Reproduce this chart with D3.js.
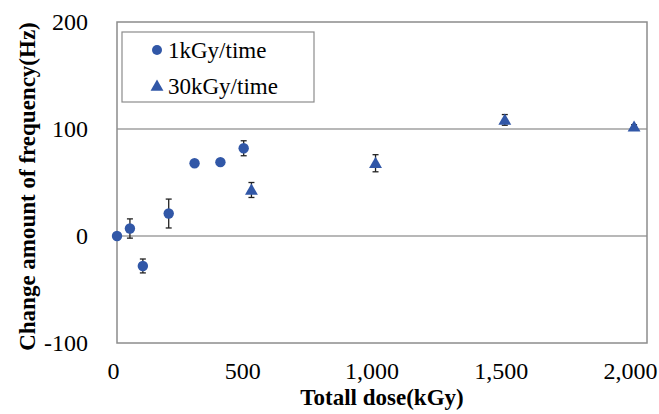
<!DOCTYPE html>
<html>
<head>
<meta charset="utf-8">
<script src="https://cdn.jsdelivr.net/npm/d3@7"></script>
<style>
  body { margin: 0; background: #fff; }
  text { font-family: "Liberation Serif", "Times New Roman", serif; fill: #000; }
  .tick text { font-family: "Liberation Serif", serif !important; }
</style>
</head>
<body>
<div id="vis"></div>
<script>
const margin = { top: 22, right: 12, bottom: 71, left: 117 };
const width = 659 - margin.left - margin.right;
const height = 414 - margin.top - margin.bottom;

// 1kGy/time series
const doseA = [0, 50, 100, 200, 300, 400, 490];
const freqA = [0, 7, -28, 21, 68, 69, 82];
const errA = [0, 9, 6.5, 13.5, 2, 2, 7];

// 30kGy/time series
const doseB = [520, 1000, 1500, 2000];
const freqB = [43, 68, 108.5, 102];
const errB = [7, 8, 5, 2];

const xTicks = [0, 500, 1000, 1500, 2000];
const yTicks = [-100, 0, 100, 200];
const seriesNames = ['1kGy/time', '30kGy/time'];
const blue = '#3157a7';
const serif = '"Liberation Serif", serif';

const svg = d3.select('#vis')
    .append('svg')
    .attr('width', 659)
    .attr('height', 414)
    .append('g')
    .attr('transform', `translate(${margin.left},${margin.top})`);

const xScale = d3.scaleLinear().domain([0, 2050]).range([0, width]);
const yScale = d3.scaleLinear().domain([-100, 200]).range([height, 0]);

// gridlines
svg.selectAll('.grid')
    .data(yTicks.filter(d => d > -100 && d < 200))
    .join('line')
    .attr('class', 'grid')
    .attr('x1', 0).attr('x2', width)
    .attr('y1', d => yScale(d)).attr('y2', d => yScale(d))
    .style('stroke', '#a0a0a0').style('stroke-width', 1.5);

// plot border
svg.append('rect')
    .attr('width', width).attr('height', height)
    .style('fill', 'none').style('stroke', '#8c8c8c').style('stroke-width', 1.5);

// axes (labels only, no tick marks)
const xAxis = svg.append('g')
    .attr('transform', `translate(0,${height})`)
    .call(d3.axisBottom(xScale).tickValues(xTicks).tickSize(0).tickPadding(19).tickFormat(d3.format(',')));
const yAxis = svg.append('g')
    .call(d3.axisLeft(yScale).tickValues(yTicks).tickSize(0).tickPadding(29).tickFormat(d => String(d)));
[xAxis, yAxis].forEach(a => {
    a.attr('font-family', serif).attr('font-size', 24);
    a.select('.domain').remove();
    a.selectAll('text').style('font-size', '24px').attr('fill', '#000');
});
xAxis.selectAll('text').attr('dx', -4);

// axis titles
svg.append('text')
    .attr('x', width / 2)
    .attr('y', height + 62)
    .attr('text-anchor', 'middle')
    .style('font-size', '23px').style('font-weight', 'bold')
    .text('Totall dose(kGy)');

svg.append('text')
    .attr('transform', 'rotate(-90)')
    .attr('x', -height / 2 - 4)
    .attr('y', -margin.left + 35)
    .attr('text-anchor', 'middle')
    .style('font-size', '23px').style('font-weight', 'bold')
    .text('Change amount of frequency(Hz)');

// error bars
function errorBars(xs, ys, es, cls) {
    const g = svg.append('g').attr('class', cls);
    xs.forEach((x, i) => {
        const cx = xScale(x), y1 = yScale(ys[i] + es[i]), y2 = yScale(ys[i] - es[i]);
        g.append('line').attr('x1', cx).attr('x2', cx).attr('y1', y1).attr('y2', y2);
        g.append('line').attr('x1', cx - 3).attr('x2', cx + 3).attr('y1', y1).attr('y2', y1);
        g.append('line').attr('x1', cx - 3).attr('x2', cx + 3).attr('y1', y2).attr('y2', y2);
    });
    g.selectAll('line').style('stroke', '#222').style('stroke-width', 1.3);
}
errorBars(doseA, freqA, errA, 'errA');
errorBars(doseB, freqB, errB, 'errB');

// markers
svg.selectAll('.ptA')
    .data(doseA.map((d, i) => ({ x: d, y: freqA[i] })))
    .join('circle')
    .attr('class', 'ptA')
    .attr('cx', d => xScale(d.x)).attr('cy', d => yScale(d.y))
    .attr('r', 5.2)
    .style('fill', blue);

const tri = d3.symbol().type(d3.symbolTriangle).size(72);
svg.selectAll('.ptB')
    .data(doseB.map((d, i) => ({ x: d, y: freqB[i] })))
    .join('path')
    .attr('class', 'ptB')
    .attr('d', tri)
    .attr('transform', d => `translate(${xScale(d.x)},${yScale(d.y) + 1})`)
    .style('fill', blue);

// legend
const legend = svg.append('g').attr('transform', 'translate(5,10)');
legend.append('rect')
    .attr('width', 192).attr('height', 70)
    .style('fill', '#fff').style('stroke', '#8c8c8c').style('stroke-width', 1.2);
seriesNames.forEach((name, i) => {
    const row = legend.append('g').attr('transform', `translate(35,${18 + i * 36})`);
    if (i === 0) {
        row.append('circle').attr('r', 5).style('fill', blue);
    } else {
        row.append('path').attr('d', tri).attr('transform', 'translate(0,1)').style('fill', blue);
    }
    row.append('text')
        .attr('x', 11).attr('y', 8)
        .style('font-size', '23px')
        .text(name);
});
</script>
</body>
</html>
